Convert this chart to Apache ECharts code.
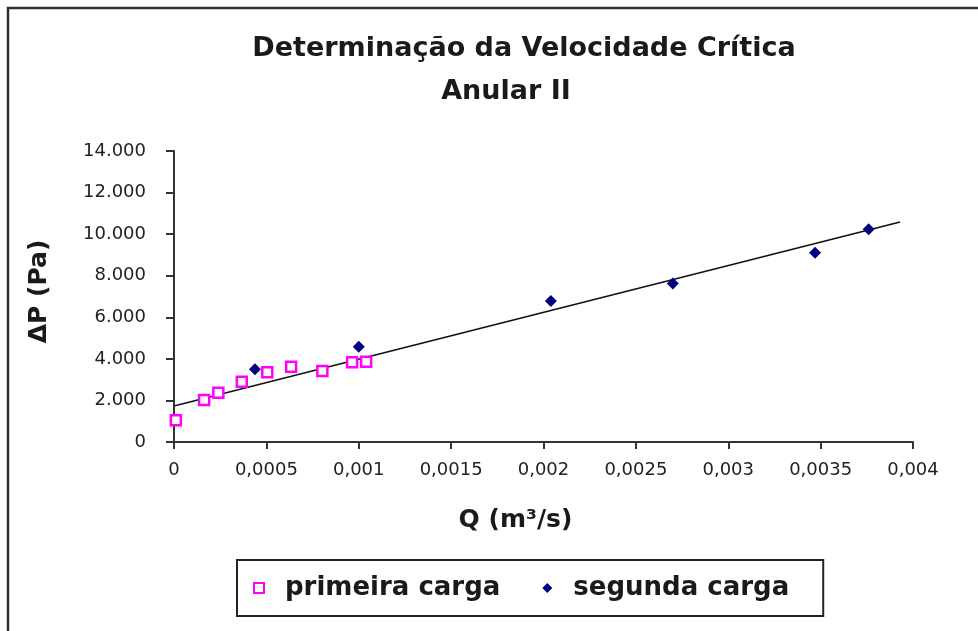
<!DOCTYPE html>
<html>
<head>
<meta charset="utf-8">
<script src="https://cdn.jsdelivr.net/npm/echarts@6/dist/echarts.min.js"></script>
<style>
  html, body { margin: 0; padding: 0; background: #fff; }
  #chart { width: 978px; height: 631px; }
</style>
</head>
<body>
<div id="chart"></div>
<script>
// primeira carga (Q em m³/s, ΔP em Pa)
var primeiraQ = [0.00001, 0.000163, 0.00024, 0.000367, 0.000505, 0.000634, 0.000803, 0.000964, 0.00104];
var primeiraDP = [1050, 2020, 2370, 2900, 3350, 3620, 3420, 3840, 3860];
// segunda carga
var segundaQ = [0.000438, 0.001, 0.00204, 0.0027, 0.00347, 0.00376];
var segundaDP = [3500, 4580, 6780, 7620, 9110, 10230];
// linha de tendência (início e fim)
var tendenciaQ = [0, 0.00393];
var tendenciaDP = [1730, 10580];

var xTicks = { min: 0, max: 0.004, interval: 0.0005 };
var yTicks = { min: 0, max: 14000, interval: 2000 };

function pares(xs, ys) {
  return xs.map(function (x, i) { return [x, ys[i]]; });
}

var font = "DejaVu Sans";
var tituloStyle = {
  fontFamily: font,
  fontSize: 27,
  fontWeight: "bold",
  color: "#1a1a1a"
};
var myChart = echarts.init(document.getElementById("chart"));
myChart.setOption({
  animation: false,
  title: [
    {
      text: "Determinação da Velocidade Crítica",
      left: 524,
      top: 35,
      textAlign: "center",
      padding: 0,
      textStyle: tituloStyle
    },
    {
      text: "Anular II",
      left: 506,
      top: 78,
      textAlign: "center",
      padding: 0,
      textStyle: tituloStyle
    }
  ],
  legend: {
    data: [
      { name: "primeira carga", icon: "rect" },
      { name: "segunda carga", icon: "diamond" }
    ],
    left: 237,
    top: 560,
    orient: "horizontal",
    borderColor: "#222",
    borderWidth: 2,
    padding: [15, 34, 15, 16],
    itemGap: 42,
    itemWidth: 10,
    itemHeight: 10,
    textStyle: {
      fontFamily: font,
      fontSize: 26,
      fontWeight: "bold",
      color: "#1a1a1a",
      padding: [0, 0, 0, 16]
    }
  },
  graphic: [
    {
      type: "rect",
      shape: { x: 8, y: 8, width: 1000, height: 700 },
      style: { fill: "none", stroke: "#333", lineWidth: 2.5 }
    }
  ],
  grid: {
    left: 174,
    right: 65,
    top: 151,
    bottom: 189,
    containLabel: false
  },
  xAxis: {
    type: "value",
    min: xTicks.min,
    max: xTicks.max,
    interval: xTicks.interval,
    name: "Q (m³/s)",
    nameLocation: "middle",
    nameGap: 66,
    nameTextStyle: {
      fontFamily: font,
      fontSize: 25,
      fontWeight: "bold",
      color: "#1a1a1a",
      padding: [0, 56, 0, 0]
    },
    axisLine: { onZero: false, lineStyle: { color: "#333", width: 2 } },
    axisTick: { show: true, inside: false, length: 7, lineStyle: { color: "#333", width: 2 } },
    axisLabel: {
      margin: 19,
      fontFamily: font,
      fontSize: 18,
      color: "#222",
      formatter: function (v) {
        return String(+v.toFixed(4)).replace(".", ",");
      }
    },
    splitLine: { show: false }
  },
  yAxis: {
    type: "value",
    min: yTicks.min,
    max: yTicks.max,
    interval: yTicks.interval,
    name: "ΔP (Pa)",
    nameLocation: "middle",
    nameRotate: 90,
    nameGap: 122,
    nameTextStyle: {
      fontFamily: font,
      fontSize: 25,
      fontWeight: "bold",
      color: "#1a1a1a",
      padding: [0, 0, 0, 10]
    },
    axisLine: { show: true, lineStyle: { color: "#333", width: 2 } },
    axisTick: { show: true, inside: false, length: 8, lineStyle: { color: "#333", width: 2 } },
    axisLabel: {
      margin: 28,
      fontFamily: font,
      fontSize: 18,
      color: "#222",
      formatter: function (v) {
        return String(v).replace(/\B(?=(\d{3})+(?!\d))/g, ".");
      }
    },
    splitLine: { show: false }
  },
  series: [
    {
      name: "tendência",
      type: "line",
      data: pares(tendenciaQ, tendenciaDP),
      symbol: "none",
      lineStyle: { color: "#111", width: 1.6 },
      z: 1
    },
    {
      name: "primeira carga",
      type: "scatter",
      data: pares(primeiraQ, primeiraDP),
      symbol: "rect",
      symbolSize: 10,
      itemStyle: { color: "#fff", borderColor: "#ff00ff", borderWidth: 2.5, opacity: 1 },
      z: 3
    },
    {
      name: "segunda carga",
      type: "scatter",
      data: pares(segundaQ, segundaDP),
      symbol: "diamond",
      symbolSize: 12,
      itemStyle: { color: "#000080", opacity: 1 },
      z: 3
    }
  ]
});
</script>
</body>
</html>
